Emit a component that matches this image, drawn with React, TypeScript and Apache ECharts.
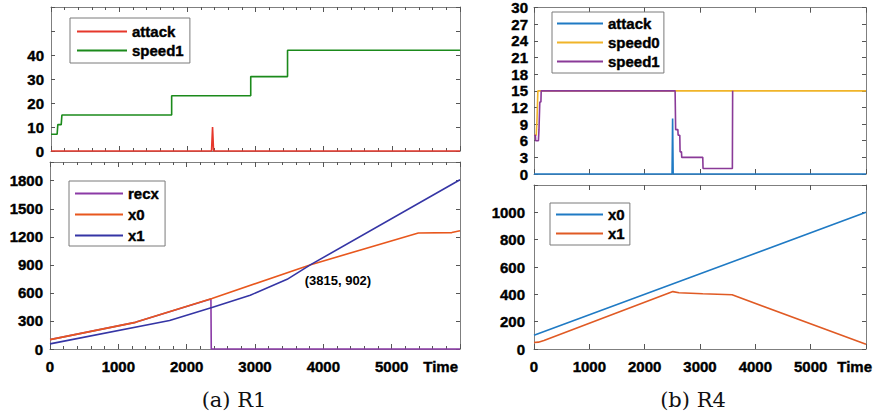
import React, { useEffect, useRef } from 'react';
import * as echarts from 'echarts';

// ---------- R1 (left) ----------
const r1AttackT = [0, 2355, 2370, 2385, 6000];
const r1AttackV = [0, 0, 10, 0, 0];
const r1Speed1T = [0, 90, 100, 150, 160, 1770, 1770, 2930, 2930, 3470, 3470, 6000];
const r1Speed1V = [7, 7, 11, 11, 15, 15, 23, 23, 31, 31, 42, 42];

const r1RecxT = [0, 1250, 2355, 2360, 6000];
const r1RecxV = [100, 285, 535, 0, 0];
const r1X0T = [0, 1250, 2370, 3815, 5390, 5880, 6000];
const r1X0V = [100, 285, 540, 902, 1240, 1245, 1265];
const r1X1T = [0, 1750, 2370, 2930, 3470, 3815, 6000];
const r1X1V = [55, 305, 445, 575, 745, 902, 1810];
const r1Cross = [3815, 902];

// ---------- R4 (right) ----------
const r4AttackT = [0, 2495, 2505, 2515, 6000];
const r4AttackV = [0, 0, 10, 0, 0];
const r4Speed0T = [0, 40, 55, 70, 6000];
const r4Speed0V = [7, 7, 10, 15, 15];
const r4Speed1T = [0, 25, 30, 80, 90, 100, 105, 125, 130, 2550, 2560, 2600, 2605, 2635, 2640, 2665, 2670, 3050, 3055, 3585, 3590];
const r4Speed1V = [7, 7, 6, 6, 8, 8, 13, 13, 15, 15, 8, 8, 7, 7, 4, 4, 3, 3, 1, 1, 15];

const r4X0T = [0, 2820, 6000];
const r4X0V = [100, 523, 1000];
const r4X1T = [0, 80, 180, 2510, 2620, 3050, 3580, 6000];
const r4X1V = [48, 50, 62, 420, 412, 404, 397, 35];

const captions = ['(a) R1', '(b) R4'];

const FONT = 'Liberation Sans';
const GRAY = '#7f7f7f';

function pairs(t: number[], v: number[]) {
  return t.map((x, i) => [x, v[i]]);
}

const labelFont = {
  fontSize: 15,
  fontWeight: 'bold',
  fontFamily: FONT,
  color: '#000',
  textBorderColor: '#000',
  textBorderWidth: 0.4,
};

function xAxes(gi: number, interval: number, minor: boolean, labels: boolean, nameGap: number) {
  const base: any = {
    type: 'value',
    gridIndex: gi,
    min: 0,
    max: 6000,
    interval,
    splitLine: { show: false },
    axisLine: { show: true, onZero: false, lineStyle: { color: GRAY, width: 1 } },
    axisTick: { show: true, inside: true, length: 5, lineStyle: { color: '#555', width: 1 } },
    minorTick: minor
      ? { show: true, splitNumber: 5, length: 3, lineStyle: { color: '#555', width: 1 } }
      : { show: false },
  };
  const bottom = {
    ...base,
    position: 'bottom',
    axisLabel: labels
      ? { show: true, margin: 10, ...labelFont, formatter: (v: number) => (v >= 6000 ? '' : String(v)) }
      : { show: false },
    name: labels ? 'Time' : '',
    nameLocation: 'end',
    nameGap,
    nameTextStyle: { ...labelFont, align: 'right', verticalAlign: 'top', padding: [10, 0, 0, 0] },
  };
  const top = { ...base, position: 'top', axisLabel: { show: false } };
  return [bottom, top];
}

function yAxes(gi: number, max: number, interval: number, labelMax: number, margin: number) {
  const base: any = {
    type: 'value',
    gridIndex: gi,
    min: 0,
    max,
    interval,
    splitLine: { show: false },
    axisLine: { show: true, onZero: false, lineStyle: { color: GRAY, width: 1 } },
    axisTick: { show: true, inside: true, length: 4, lineStyle: { color: '#555', width: 1 } },
  };
  const left = {
    ...base,
    position: 'left',
    axisLabel: {
      show: true,
      margin,
      ...labelFont,
      formatter: (v: number) => (v > labelMax || v % interval !== 0 ? '' : String(v)),
    },
  };
  const right = { ...base, position: 'right', axisLabel: { show: false } };
  return [left, right];
}

function line(name: string, gi: number, t: number[], v: number[], color: string, extra: any = {}) {
  return {
    type: 'line',
    name,
    xAxisIndex: gi * 2,
    yAxisIndex: gi * 2,
    data: pairs(t, v),
    showSymbol: false,
    symbol: 'none',
    clip: false,
    lineStyle: { color, width: 1.6 },
    itemStyle: { color },
    emphasis: { disabled: true },
    ...extra,
  };
}

const legendBase: any = {
  orient: 'vertical',
  icon: 'rect',
  itemHeight: 2,
  itemGap: 2,
  borderColor: '#7a7a7a',
  borderWidth: 1,
  borderRadius: 0,
  backgroundColor: '#fff',
  textStyle: {
    fontSize: 15,
    fontWeight: 'bold',
    fontFamily: FONT,
    color: '#000',
    lineHeight: 17,
    textBorderColor: '#000',
    textBorderWidth: 0.4,
  },
  formatter: (n: string) => n.trim(),
  selectedMode: false,
};

export default function App() {
  const ref = useRef<HTMLDivElement>(null);
  useEffect(() => {
    document.body.style.margin = '0';
    const chart = echarts.init(ref.current!, null, { renderer: 'svg' });
    const C = {
      r1attack: '#e6372b',
      r1speed1: '#1b8a1b',
      recx: '#8b3aa6',
      r1x0: '#e8571d',
      r1x1: '#3535a5',
      blue: '#1f7ac4',
      yellow: '#f0b429',
      purple: '#8a3a98',
      orange: '#e05a24',
    };
    const option: any = {
      animation: false,
      backgroundColor: '#fff',
      grid: [
        { left: 51, top: 7, width: 409, height: 144 },
        { left: 50, top: 162, width: 410, height: 187 },
        { left: 534, top: 7, width: 332, height: 167 },
        { left: 534, top: 185, width: 332, height: 164 },
      ],
      xAxis: [
        ...xAxes(0, 1000, true, false, 0),
        ...xAxes(1, 1000, true, true, -2),
        ...xAxes(2, 1000, false, false, 0),
        ...xAxes(3, 1000, false, true, 6),
      ],
      yAxis: [
        ...yAxes(0, 60, 10, 40, 7),
        ...yAxes(1, 2000, 300, 1800, 7),
        ...yAxes(2, 30, 3, 30, 6),
        ...yAxes(3, 1200, 200, 1000, 9),
      ],
      legend: [
        { ...legendBase, data: ['attack', 'speed1'], left: 70, top: 18, itemWidth: 50, padding: [5, 6, 4, 7] },
        { ...legendBase, data: ['recx', 'x0', 'x1'], left: 69, top: 181, itemWidth: 48, itemGap: 4, padding: [4, 6, 2, 6] },
        { ...legendBase, data: ['attack ', 'speed0', 'speed1 '], left: 552, top: 12, itemWidth: 46, padding: [3, 4, 3, 5] },
        { ...legendBase, data: ['x0 ', 'x1 '], left: 550, top: 203, itemWidth: 47, padding: [3, 5, 3, 6] },
      ],
      series: [
        line('speed1', 0, r1Speed1T, r1Speed1V, C.r1speed1),
        line('attack', 0, r1AttackT, r1AttackV, C.r1attack),
        line('recx', 1, r1RecxT, r1RecxV, C.recx),
        line('x0', 1, r1X0T, r1X0V, C.r1x0),
        line('x1', 1, r1X1T, r1X1V, C.r1x1, {
          markPoint: {
            silent: true,
            symbol: 'circle',
            symbolSize: 0,
            itemStyle: { color: 'transparent' },
            data: [{ coord: r1Cross, value: 0 }],
            label: {
              show: true,
              position: [-6, 9],
              formatter: `(${r1Cross[0]}, ${r1Cross[1]})`,
              fontSize: 13,
              fontWeight: 'bold',
              fontFamily: FONT,
              color: '#000',
            },
          },
        }),
        line('attack ', 2, r4AttackT, r4AttackV, C.blue),
        line('speed0', 2, r4Speed0T, r4Speed0V, C.yellow),
        line('speed1 ', 2, r4Speed1T, r4Speed1V, C.purple),
        line('x0 ', 3, r4X0T, r4X0V, C.blue),
        line('x1 ', 3, r4X1T, r4X1V, C.orange),
      ],
      graphic: [
        {
          type: 'text',
          x: 234,
          y: 400,
          style: { text: captions[0], fontSize: 21, fontFamily: 'DejaVu Serif', fill: '#111', align: 'center', verticalAlign: 'middle' },
        },
        {
          type: 'text',
          x: 693,
          y: 400,
          style: { text: captions[1], fontSize: 21, fontFamily: 'DejaVu Serif', fill: '#111', align: 'center', verticalAlign: 'middle' },
        },
      ],
    };
    chart.setOption(option);
    return () => chart.dispose();
  }, []);
  return <div ref={ref} style={{ width: 874, height: 415 }} />;
}
